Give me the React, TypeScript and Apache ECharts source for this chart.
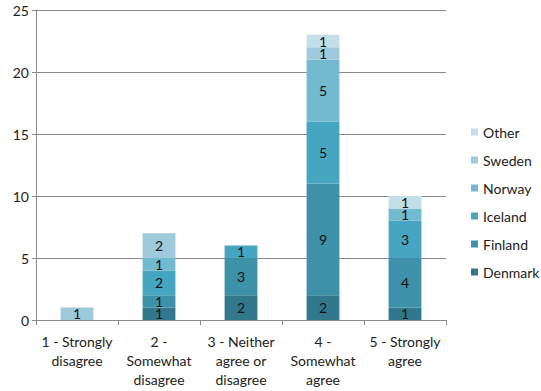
import React, { useEffect, useRef } from "react";
import * as echarts from "echarts";

const categories = [
  "1 - Strongly\ndisagree",
  "2 -\nSomewhat\ndisagree",
  "3 - Neither\nagree or\ndisagree",
  "4 -\nSomewhat\nagree",
  "5 - Strongly\nagree",
];
const denmark = [0, 1, 2, 2, 1];
const finland = [0, 1, 3, 9, 4];
const iceland = [0, 2, 1, 5, 3];
const norway = [0, 1, 0, 5, 1];
const sweden = [1, 2, 0, 1, 0];
const other = [0, 0, 0, 1, 1];

const seriesNames = ["Denmark", "Finland", "Iceland", "Norway", "Sweden", "Other"];
const seriesData = [denmark, finland, iceland, norway, sweden, other];
const colors = ["#31788c", "#3d91a8", "#46a6c1", "#73b9cf", "#9ecadb", "#c3dfe8"];
const yTicks = [0, 5, 10, 15, 20, 25];

const FONT = "Lato, 'Open Sans', sans-serif";

export default function App() {
  const ref = useRef<HTMLDivElement>(null);
  useEffect(() => {
    if (!ref.current) return;
    const chart = echarts.init(ref.current, null, { renderer: "svg" });
    chart.setOption({
      animation: false,
      textStyle: { fontFamily: FONT },
      grid: { left: 36, right: 95, top: 10, bottom: 71, containLabel: false },
      legend: {
        orient: "vertical",
        left: 466,
        top: 120,
        itemWidth: 7,
        itemHeight: 7,
        itemGap: 14,
        icon: "rect",
        data: ["Other", "Sweden", "Norway", "Iceland", "Finland", "Denmark"],
        textStyle: { fontSize: 14, color: "#222", fontFamily: FONT },
      },
      xAxis: {
        type: "category",
        data: categories,
        axisLine: { lineStyle: { color: "#8a8a8a" } },
        axisTick: { show: true, alignWithLabel: false, length: 5, lineStyle: { color: "#8a8a8a" } },
        axisLabel: { fontSize: 14, color: "#222", lineHeight: 19, margin: 12, interval: 0, fontFamily: FONT },
      },
      yAxis: {
        type: "value",
        min: yTicks[0],
        max: yTicks[yTicks.length - 1],
        interval: 5,
        axisLine: { show: true, lineStyle: { color: "#8a8a8a" } },
        axisTick: { show: true, length: 4, lineStyle: { color: "#8a8a8a" } },
        splitLine: { lineStyle: { color: "#8a8a8a" } },
        axisLabel: { fontSize: 14, color: "#222", margin: 7, fontFamily: FONT },
      },
      series: seriesNames.map((name, i) => ({
        name,
        type: "bar",
        stack: "total",
        barWidth: "40%",
        data: seriesData[i],
        itemStyle: { color: colors[i] },
        label: {
          show: true,
          position: "inside",
          color: "#111",
          fontSize: 14,
          fontFamily: FONT,
          formatter: (p: any) => (p.value > 0 ? String(p.value) : ""),
        },
      })),
    });
    return () => chart.dispose();
  }, []);
  return <div ref={ref} style={{ width: 541, height: 391, position: "absolute", left: 0, top: 0 }} />;
}
